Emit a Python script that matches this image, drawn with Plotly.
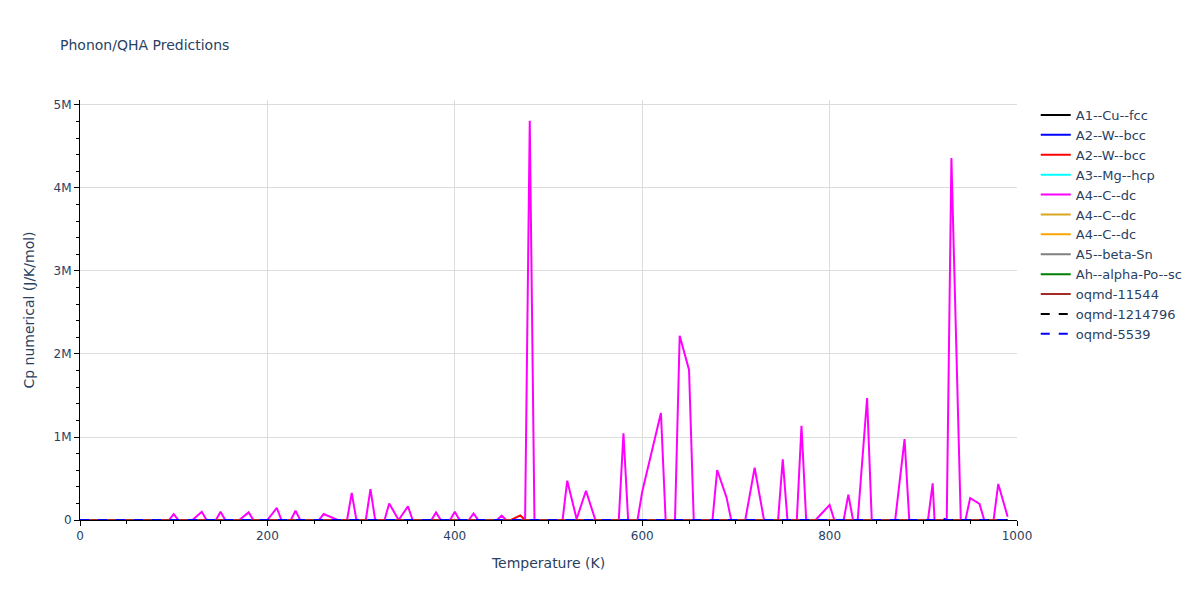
import plotly.graph_objects as go

# ---------------- data ----------------
# common coarse temperature grid for the near-zero (normal Cp) series
T_base = [0, 10, 20, 50, 100, 200, 300, 400, 500, 600, 700, 800, 900, 990]

cp_cu_fcc = [0, 0.5, 3.5, 13.0, 20.5, 23.5, 24.5, 25.0, 25.4, 25.8, 26.2, 26.6, 27.0, 27.4]
cp_w_bcc_1 = [0, 0.1, 1.1, 7.5, 16.5, 22.5, 24.0, 24.7, 25.1, 25.5, 26.0, 26.3, 26.7, 27.0]
cp_mg_hcp = [0, 0.4, 2.8, 12.0, 19.8, 23.2, 24.3, 24.9, 25.4, 25.9, 26.4, 26.9, 27.5, 28.0]
cp_c_dc_2 = [0, 0.0, 0.1, 0.5, 1.8, 5.2, 8.6, 11.5, 13.8, 15.6, 17.0, 18.1, 19.0, 19.7]
cp_c_dc_3 = [0, 0.0, 0.1, 0.6, 2.0, 5.5, 9.0, 11.9, 14.2, 16.0, 17.4, 18.5, 19.4, 20.1]
cp_sn_beta = [0, 2.0, 8.5, 20.0, 23.5, 25.0, 25.6, 26.0, 26.4, 26.8, 27.2, 27.6, 28.0, 28.4]
cp_po_sc = [0, 2.5, 9.5, 20.5, 23.8, 25.1, 25.7, 26.1, 26.5, 26.9, 27.3, 27.7, 28.1, 28.5]
cp_oqmd_11544 = [0, 0.3, 2.2, 10.5, 18.5, 22.8, 24.1, 24.7, 25.2, 25.6, 26.0, 26.4, 26.8, 27.2]
cp_oqmd_1214796 = [0, 0.6, 4.0, 14.0, 21.0, 23.8, 24.7, 25.2, 25.6, 26.0, 26.4, 26.8, 27.2, 27.6]

# second W bcc run: small numerical bump around 470 K
T_w_bcc_2 = [0, 10, 20, 50, 100, 200, 300, 400, 460, 470, 475, 500, 600, 700, 800, 900, 990]
cp_w_bcc_2 = [0, 0.1, 1.2, 7.8, 16.8, 22.6, 24.1, 24.8, 25.0, 55000, 25.1, 25.2, 25.6, 26.0, 26.4, 26.8, 27.1]

# oqmd-5539: small numerical bump around 920 K
T_oqmd_5539 = [0, 10, 20, 50, 100, 200, 300, 400, 500, 600, 700, 800, 900, 915, 920, 925, 990]
cp_oqmd_5539 = [0, 0.2, 1.6, 9.0, 17.5, 22.6, 24.0, 24.6, 25.1, 25.5, 25.9, 26.3, 26.7, 26.8, 22000, 26.8, 27.1]

# A4--C--dc (magenta): noisy numerical Cp with large spikes
T_c_dc_1 = [0, 35, 40, 45, 55, 60, 65, 75, 80, 85, 95, 100, 105, 120, 130, 135,
            145, 150, 155, 170, 180, 185, 200, 210, 215, 225, 230, 235,
            255, 260, 270, 275, 285, 290, 295, 305, 310, 315, 325, 330, 340,
            350, 355, 375, 380, 385, 395, 400, 405, 415, 420, 425,
            445, 450, 455, 475, 480, 485, 515, 520, 530, 540, 550,
            575, 580, 585, 595, 600, 620, 625, 635, 640, 650, 655,
            675, 680, 690, 695, 710, 720, 730, 745, 750, 755,
            765, 770, 775, 785, 790, 800, 805, 815, 820, 825,
            830, 840, 845, 870, 880, 885, 905, 910, 912,
            925, 930, 935, 940, 945, 950, 960, 965, 975, 980, 990]
cp_c_dc_1 = [0, 1, 5000, 1, 2, 2000, 2, 3, 8000, 3, 4, 72000, 4, 5, 100000, 5,
             6, 100000, 6, 7, 92000, 7, 8, 145000, 8, 9, 112000, 9,
             10, 72000, 28000, 10, 11, 325000, 11, 12, 373000, 12, 12, 200000, 12,
             164000, 13, 13, 92000, 13, 14, 100000, 14, 14, 80000, 14,
             15, 52000, 15, 15, 4810000, 15, 16, 473000, 12000, 353000, 16,
             16, 1045000, 16, 17, 340000, 1290000, 17, 17, 2220000, 1807000, 17,
             17, 602000, 272000, 17, 18, 630000, 18, 18, 730000, 18,
             18, 1136000, 18, 18, 60000, 181000, 18, 19, 305000, 19,
             19, 1470000, 19, 19, 975000, 19, 19, 441000, 19,
             19, 4360000, 2050000, 19, 19, 265000, 193000, 20, 20, 434000, 40000]

series = [
    ("A1--Cu--fcc", T_base, cp_cu_fcc, "black", "solid"),
    ("A2--W--bcc", T_base, cp_w_bcc_1, "blue", "solid"),
    ("A2--W--bcc", T_w_bcc_2, cp_w_bcc_2, "red", "solid"),
    ("A3--Mg--hcp", T_base, cp_mg_hcp, "cyan", "solid"),
    ("A4--C--dc", T_c_dc_1, cp_c_dc_1, "magenta", "solid"),
    ("A4--C--dc", T_base, cp_c_dc_2, "goldenrod", "solid"),
    ("A4--C--dc", T_base, cp_c_dc_3, "orange", "solid"),
    ("A5--beta-Sn", T_base, cp_sn_beta, "gray", "solid"),
    ("Ah--alpha-Po--sc", T_base, cp_po_sc, "green", "solid"),
    ("oqmd-11544", T_base, cp_oqmd_11544, "brown", "solid"),
    ("oqmd-1214796", T_base, cp_oqmd_1214796, "black", "dash"),
    ("oqmd-5539", T_oqmd_5539, cp_oqmd_5539, "blue", "dash"),
]

fig = go.Figure()
for name, t, cp, color, dash in series:
    fig.add_trace(go.Scatter(x=t, y=cp, mode="lines", name=name,
                             line=dict(color=color, dash=dash, width=2)))

FONT = "Verdana, DejaVu Sans, sans-serif"

axis_common = dict(
    showline=True, linecolor="black", linewidth=1,
    ticks="outside", tickcolor="black", ticklen=5,
    minor=dict(ticks="outside", tickcolor="black", ticklen=3),
    showgrid=True, gridcolor="#dcdcdc", zeroline=False,
    tickfont=dict(size=12),
)

fig.update_layout(
    template="plotly_white",
    width=1200, height=600,
    font=dict(family=FONT, size=12, color="#2a3f5f"),
    title=dict(text="Phonon/QHA Predictions", font=dict(size=14), x=0.05),
    xaxis=dict(title=dict(text="Temperature (K)", font=dict(size=14)),
               range=[0, 1000], **axis_common),
    yaxis=dict(title=dict(text="Cp numerical (J/K/mol)", font=dict(size=14)),
               range=[0, 5.06e6], **axis_common),
    legend=dict(font=dict(size=13)),
    margin=dict(l=80, t=100, b=80),
)

fig.write_html("out.html", config={"displayModeBar": False},
               post_script="document.body.style.margin='0px';")
